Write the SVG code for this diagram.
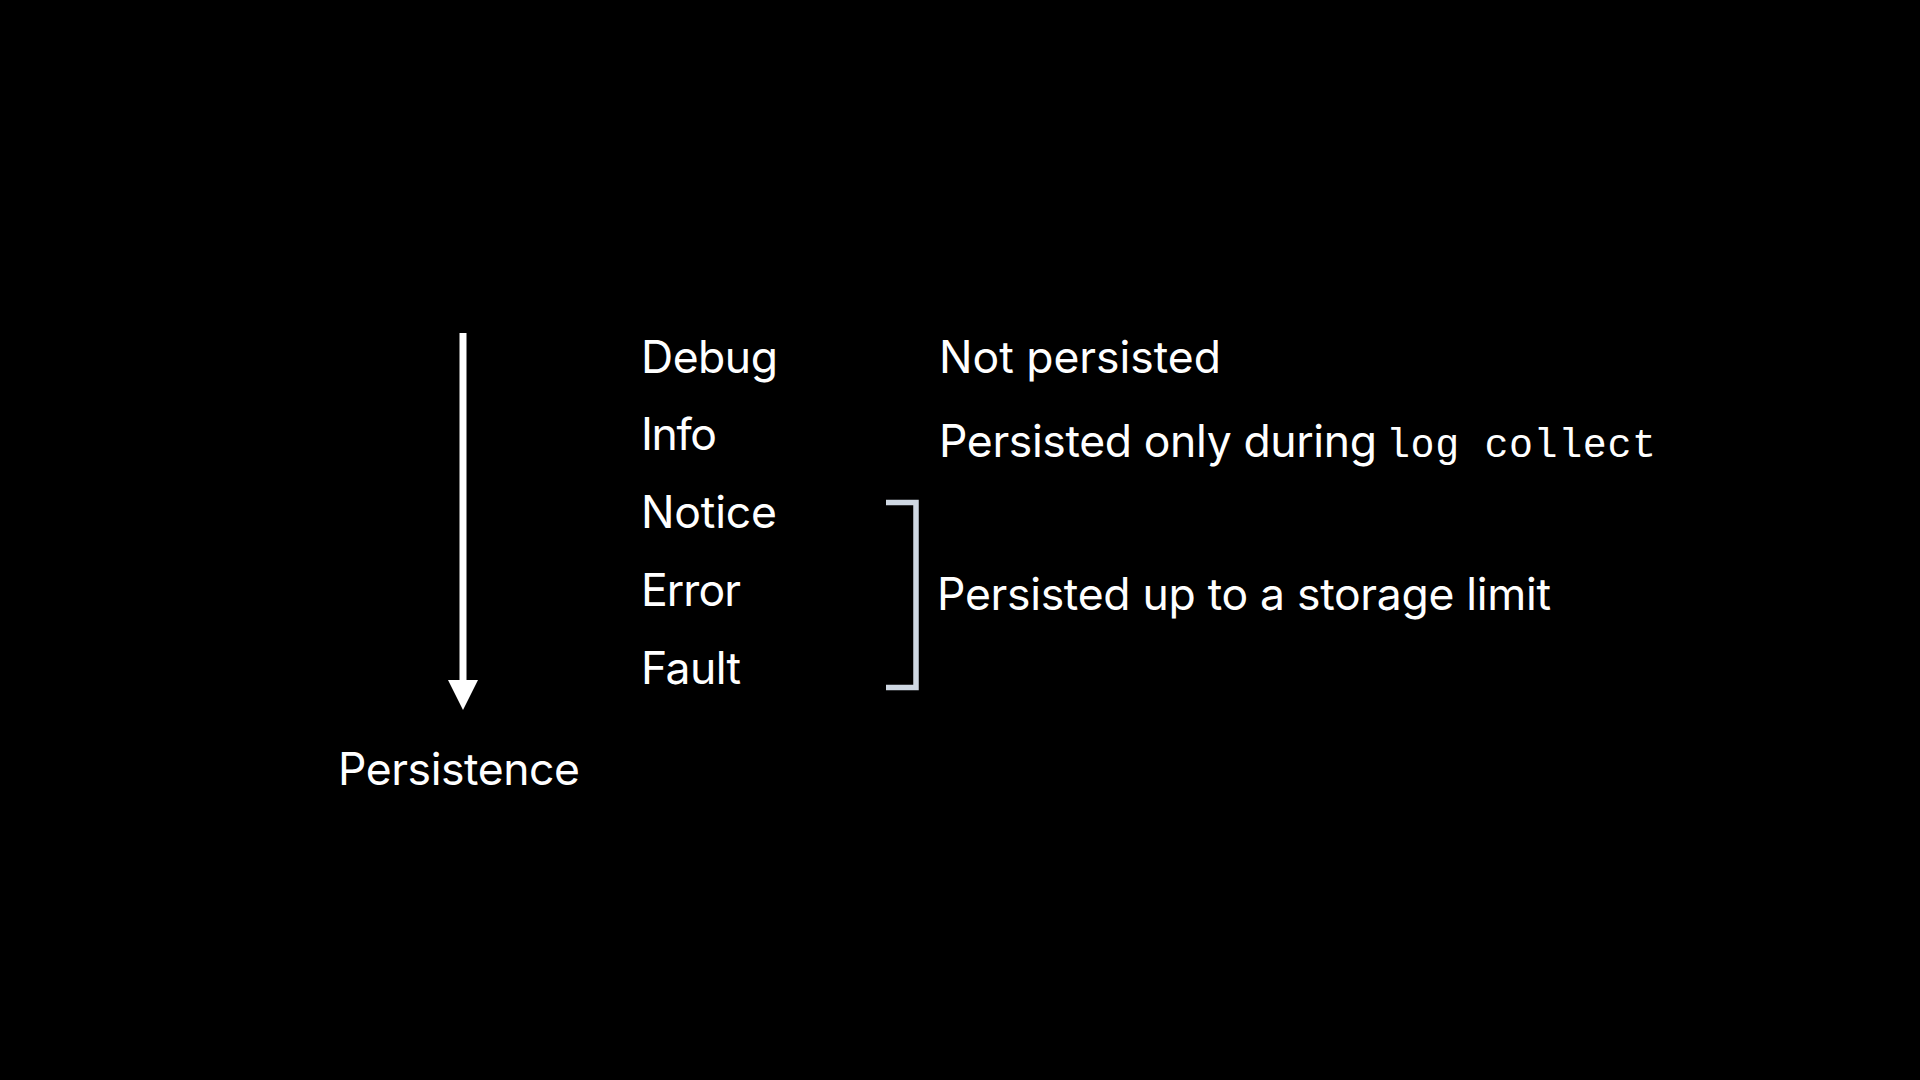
<svg xmlns="http://www.w3.org/2000/svg" width="1920" height="1080" viewBox="0 0 1920 1080">
  <defs>
    <style>
      .t { font-family: Inter, "Liberation Sans", sans-serif; font-size: 44.5px; fill: #ffffff; }
      .m { font-family: "Liberation Mono", "DejaVu Sans Mono", monospace; font-size: 40px; fill: #ffffff; }
      .br { fill: none; stroke: #cfd8e3; stroke-width: 5.5; }
      .ar { stroke: #ffffff; stroke-width: 7; fill: none; }
    </style>
  </defs>
  <rect x="0" y="0" width="1920" height="1080" fill="#000000"/>
  <g id="connectors">
    <g id="persistence-arrow">
      <line class="ar" x1="463" y1="333" x2="463" y2="684"/>
      <polygon points="448,680 478,680 463,710" fill="#ffffff"/>
    </g>
    <path id="bracket" class="br" d="M886,502.5 H916 V687.5 H886"/>
  </g>
  <g id="persistence-label"><text class="t" x="338" y="785" textLength="242">Persistence</text></g>
  <g id="level-debug"><text class="t" x="641" y="373" textLength="137">Debug</text></g>
  <g id="level-info"><text class="t" x="641" y="450" textLength="76">Info</text></g>
  <g id="level-notice"><text class="t" x="641" y="528" textLength="136">Notice</text></g>
  <g id="level-error"><text class="t" x="641" y="606" textLength="100">Error</text></g>
  <g id="level-fault"><text class="t" x="641" y="684" textLength="100">Fault</text></g>
  <g id="desc-not-persisted"><text class="t" x="939" y="373" textLength="282">Not persisted</text></g>
  <g id="desc-log-collect">
    <text class="t" x="939" y="457" textLength="438">Persisted only during</text>
    <text class="m" x="1386" y="457" textLength="270">log collect</text>
  </g>
  <g id="desc-storage-limit"><text class="t" x="937" y="610" textLength="614">Persisted up to a storage limit</text></g>
</svg>
